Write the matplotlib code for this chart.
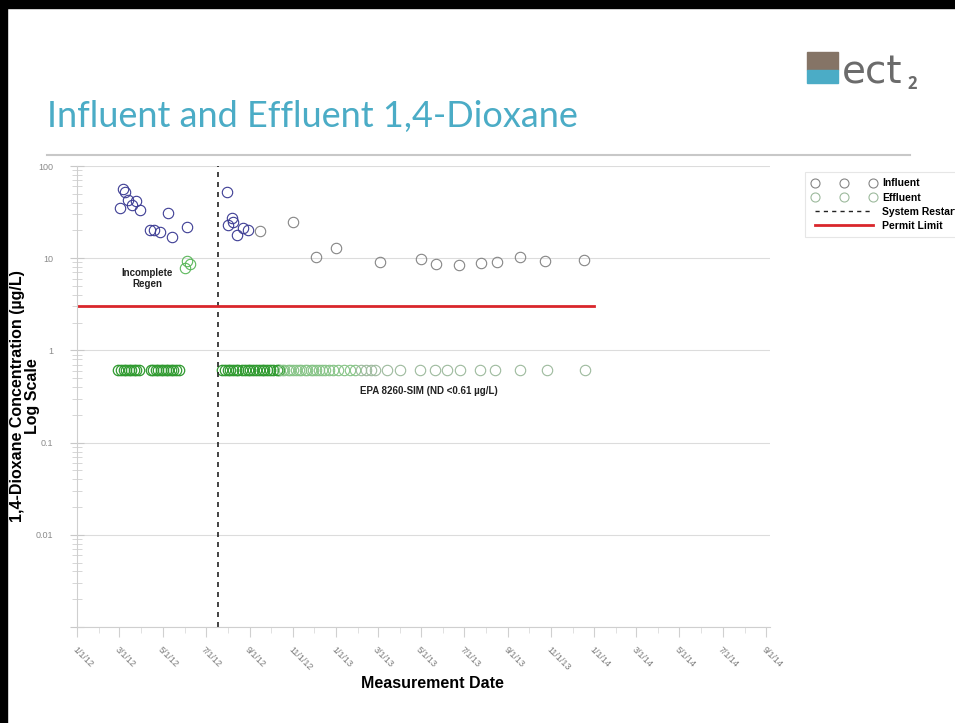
import numpy as np
import pandas as pd
import matplotlib
matplotlib.use("Agg")
import matplotlib.pyplot as plt
import matplotlib.dates as mdates
from matplotlib.lines import Line2D
from matplotlib.patches import Rectangle

plt.rcParams['font.family'] = ['Liberation Sans', 'DejaVu Sans']

# Influent samples (ug/L)
influent_dates = ['2012-03-02', '2012-03-06', '2012-03-09', '2012-03-13', '2012-03-19',
                  '2012-03-24', '2012-03-30', '2012-04-13', '2012-04-19', '2012-04-27',
                  '2012-05-09', '2012-05-14', '2012-06-04',
                  '2012-07-31', '2012-08-01', '2012-08-07', '2012-08-08', '2012-08-14',
                  '2012-08-22', '2012-08-29', '2012-09-15', '2012-11-01', '2012-12-04',
                  '2013-01-01', '2013-03-04', '2013-05-01', '2013-05-22', '2013-06-24',
                  '2013-07-25', '2013-08-16', '2013-09-18', '2013-10-23', '2013-12-17']
influent_vals = [35, 57, 52, 43, 38, 42, 33, 20, 20, 19, 31, 17, 22,
                 52, 23, 27, 25, 18, 21, 20, 19.5, 25, 10.2, 13,
                 9.0, 9.8, 8.6, 8.4, 8.8, 9.0, 10.2, 9.3, 9.5]

# Effluent samples, non-detects plotted at the reporting limit
effluent_dates = ['2012-02-28', '2012-03-03', '2012-03-07', '2012-03-10', '2012-03-14',
                  '2012-03-17', '2012-03-21', '2012-03-25', '2012-03-29',
                  '2012-04-15', '2012-04-18', '2012-04-22', '2012-04-25', '2012-04-29',
                  '2012-05-02', '2012-05-06', '2012-05-09', '2012-05-13', '2012-05-16',
                  '2012-05-20', '2012-05-24',
                  '2012-07-24', '2012-07-28', '2012-08-01', '2012-08-04', '2012-08-09',
                  '2012-08-13', '2012-08-16', '2012-08-21', '2012-08-25', '2012-08-29',
                  '2012-09-02', '2012-09-05', '2012-09-10', '2012-09-14', '2012-09-18',
                  '2012-09-21', '2012-09-26', '2012-09-30', '2012-10-04', '2012-10-09',
                  '2012-10-12', '2012-10-16', '2012-10-20', '2012-10-25', '2012-10-28',
                  '2012-11-01', '2012-11-06', '2012-11-09', '2012-11-13', '2012-11-18',
                  '2012-11-21', '2012-11-26', '2012-11-29', '2012-12-03', '2012-12-08',
                  '2012-12-12', '2012-12-17', '2012-12-22', '2012-12-28', '2013-01-04',
                  '2013-01-12', '2013-01-20', '2013-01-28', '2013-02-05', '2013-02-12',
                  '2013-02-19', '2013-02-25',
                  '2013-03-14', '2013-04-01', '2013-04-29', '2013-05-21', '2013-06-07',
                  '2013-06-25', '2013-07-23', '2013-08-13', '2013-09-18', '2013-10-26',
                  '2013-12-19']
effluent_vals = [0.61] * len(effluent_dates)

# Effluent detections during the incomplete regeneration
regen_dates = ['2012-06-02', '2012-06-05', '2012-06-08']
regen_vals = [7.8, 9.3, 8.6]

restart_date = '2012-07-18'
permit_limit = 3.0
permit_span = ['2012-01-01', '2014-01-01']

tick_dates = ['2012-01-01', '2012-03-01', '2012-05-01', '2012-07-01', '2012-09-01',
              '2012-11-01', '2013-01-01', '2013-03-01', '2013-05-01', '2013-07-01',
              '2013-09-01', '2013-11-01', '2014-01-01', '2014-03-01', '2014-05-01',
              '2014-07-01', '2014-09-01']
tick_labels = ['1/1/12', '3/1/12', '5/1/12', '7/1/12', '9/1/12', '11/1/12', '1/1/13',
               '3/1/13', '5/1/13', '7/1/13', '9/1/13', '11/1/13', '1/1/14', '3/1/14',
               '5/1/14', '7/1/14', '9/1/14']
y_ticks = [0.001, 0.01, 0.1, 1, 10, 100]
y_labels = ['', '0.01', '0.1', '1', '10', '100']

inf_d = pd.to_datetime(influent_dates)
inf_v = np.array(influent_vals)
eff_d = pd.to_datetime(effluent_dates)
eff_v = np.array(effluent_vals)

fig = plt.figure(figsize=(9.55, 7.23), dpi=100)

# slide frame, title and separator
fig.patches.append(Rectangle((0, 1 - 8 / 723), 1, 8 / 723, transform=fig.transFigure,
                             color='black', zorder=5))
fig.patches.append(Rectangle((0, 0), 7 / 955, 1, transform=fig.transFigure,
                             color='black', zorder=5))
fig.text(47 / 955, 1 - 116 / 723, 'Influent and Effluent 1,4-Dioxane', fontsize=26,
         color='#4BACC6', family=['Lato', 'DejaVu Sans'], va='center', ha='left')
fig.add_artist(Line2D([47 / 955, 910 / 955], [1 - 155 / 723] * 2, color='#c8c8c8',
                      lw=1.5, transform=fig.transFigure))

# logo
fig.patches.append(Rectangle((807 / 955, 1 - 70 / 723), 31 / 955, 18 / 723,
                             transform=fig.transFigure, color='#857466'))
fig.patches.append(Rectangle((807 / 955, 1 - 83 / 723), 31 / 955, 13 / 723,
                             transform=fig.transFigure, color='#4BACC6'))
fig.text(842 / 955, 1 - 83 / 723, 'ect', fontsize=28, color='#6b6b6b',
         family=['DejaVu Sans'], va='baseline', ha='left')
fig.text(907 / 955, 1 - 89 / 723, '2', fontsize=12, color='#6b6b6b',
         family=['Open Sans', 'DejaVu Sans'], va='baseline', ha='left', weight='bold')

ax = fig.add_axes([77 / 955, 1 - 627 / 723, 693 / 955, 461 / 723])
ax.set_yscale('log')
ax.set_ylim(0.001, 100)
ax.set_xlim(pd.Timestamp('2012-01-01'), pd.Timestamp('2014-09-06'))

ax.grid(True, which='major', axis='y', color='#dcdcdc', lw=0.8)
ax.set_axisbelow(True)

# influent, early samples in blue and later ones in grey
early = inf_d < pd.Timestamp('2012-09-01')
ax.plot(inf_d[early], inf_v[early], 'o', mfc='none', mec='#3d3d94', ms=7.5, mew=0.8)
ax.plot(inf_d[~early], inf_v[~early], 'o', mfc='none', mec='#858585', ms=7.5, mew=0.8)

# effluent
g1 = eff_d < pd.Timestamp('2012-10-15')
g2 = (eff_d >= pd.Timestamp('2012-10-15')) & (eff_d < pd.Timestamp('2013-02-01'))
g3 = eff_d >= pd.Timestamp('2013-02-01')
ax.plot(eff_d[g1], eff_v[g1], 'o', mfc='none', mec='#2f9a2f', ms=7.5, mew=0.9)
ax.plot(eff_d[g2], eff_v[g2], 'o', mfc='none', mec='#86c486', ms=7.5, mew=0.8)
ax.plot(eff_d[g3], eff_v[g3], 'o', mfc='none', mec='#9dba9d', ms=7.5, mew=0.8)
ax.plot(pd.to_datetime(regen_dates), regen_vals, 'o', mfc='none', mec='#5cb85c',
        ms=7.5, mew=0.8)

ax.axvline(pd.Timestamp(restart_date), color='#222222', ls=(0, (3, 3)), lw=1.2)
ax.plot(pd.to_datetime(permit_span), [permit_limit] * 2, color='#d9262b', lw=2)

ax.text(pd.Timestamp('2012-04-09'), 6.0, 'Incomplete\nRegen', fontsize=7,
        weight='bold', ha='center', va='center', color='#222222', linespacing=1.1)
ax.text(pd.Timestamp('2013-05-12'), 0.36, 'EPA 8260-SIM (ND <0.61 \u00b5g/L)',
        fontsize=7, weight='bold', ha='center', va='center', color='#222222')

# axes styling
for side in ['top', 'right']:
    ax.spines[side].set_visible(False)
for side in ['left', 'bottom']:
    ax.spines[side].set_color('#cfcfcf')

ax.set_yticks(y_ticks)
ax.set_yticklabels(y_labels)
ax.yaxis.set_minor_locator(matplotlib.ticker.LogLocator(base=10, subs=np.arange(2, 10)))
ax.yaxis.set_minor_formatter(matplotlib.ticker.NullFormatter())
ax.tick_params(axis='y', which='major', direction='inout', length=10, color='#c8c8c8',
               labelsize=6.5, labelcolor='#8a8a8a', pad=12)
ax.tick_params(axis='y', which='minor', direction='inout', length=7, color='#d0d0d0')

ax.set_xticks(pd.to_datetime(tick_dates))
ax.set_xticklabels(tick_labels, rotation=-45, ha='left', va='top',
                   rotation_mode='anchor')
ax.xaxis.set_minor_locator(mdates.MonthLocator())
ax.tick_params(axis='x', which='major', direction='out', length=7, color='#d0d0d0',
               labelsize=6.5, labelcolor='#7a7a7a', pad=6)
ax.tick_params(axis='x', which='minor', direction='out', length=4, color='#dcdcdc')

fig.text(432 / 955, 1 - 684 / 723, 'Measurement Date', fontsize=11.5, weight='bold',
         ha='center', va='center')
fig.text(25 / 955, 1 - 396 / 723, '1,4-Dioxane Concentration (\u00b5g/L)\nLog Scale',
         fontsize=11.5, weight='bold', ha='center', va='center', rotation=90,
         linespacing=1.05)

handles = [
    Line2D([], [], ls='none', marker='o', mfc='none', mec='#858585', ms=6.5, mew=0.8),
    Line2D([], [], ls='none', marker='o', mfc='none', mec='#9dba9d', ms=6.5, mew=0.8),
    Line2D([], [], color='#222222', ls=(0, (3, 3)), lw=1),
    Line2D([], [], color='#d9262b', lw=2),
]
leg = fig.legend(handles, ['Influent', 'Effluent', 'System Restart', 'Permit Limit'],
                 loc='upper left', bbox_to_anchor=(800 / 955, 1 - 167 / 723),
                 numpoints=3, handlelength=6.2, handletextpad=0.6, labelspacing=0.4,
                 borderpad=0.6, fancybox=False, edgecolor='#e0e0e0',
                 prop={'size': 7.5, 'weight': 'bold'})
leg.get_frame().set_linewidth(0.8)

fig.savefig('out.png', dpi=100)
